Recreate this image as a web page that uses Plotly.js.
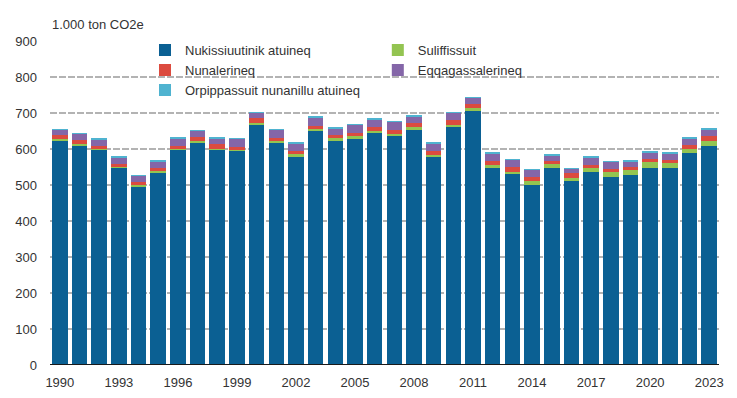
<!DOCTYPE html>
<html>
<head>
<meta charset="utf-8">
<script src="https://cdn.plot.ly/plotly-3.0.1.min.js"></script>
<style>html,body{margin:0;padding:0;background:#fff;}#chart{width:737px;height:398px;}</style>
</head>
<body>
<div id="chart"></div>
<script>
const years = [1990,1991,1992,1993,1994,1995,1996,1997,1998,1999,2000,2001,2002,2003,2004,2005,2006,2007,2008,2009,2010,2011,2012,2013,2014,2015,2016,2017,2018,2019,2020,2021,2022,2023];
const seriesNames = ["Nukissiuutinik atuineq","Suliffissuit","Nunalerineq","Eqqagassalerineq","Orpippassuit nunanillu atuineq"];
const energy   = [624,610,598,548,497,535,598,618,598,595,669,618,580,649,623,627,644,635,652,577,661,706,547,530,501,547,510,535,522,527,547,547,589,609];
const industry = [5,3,3,3,3,3,3,3,3,3,4,4,5,6,7,8,7,8,8,7,7,7,8,7,9,12,9,12,13,14,18,14,12,12];
const agriculture = [9,13,8,8,8,9,8,12,12,8,12,8,9,9,9,9,9,9,11,11,13,12,13,14,12,9,14,9,9,9,6,8,11,14];
const waste    = [15,16,17,17,17,19,20,17,17,22,15,23,22,23,19,23,22,23,20,21,19,17,19,19,20,14,12,20,20,16,20,18,18,19];
const landUse  = [2,2,2,2,2,2,2,2,2,2,2,2,2,2,2,2,2,2,2,2,2,2,2,2,2,2,2,2,2,2,2,2,2,2];
const tickYears = [1990,1993,1996,1999,2002,2005,2008,2011,2014,2017,2020,2023];
const yTicks = [0,100,200,300,400,500,600,700,800,900];
const yUnit = "1.000 ton CO2e";

const colors = ["#0b6093","#93c451","#dc4b3f","#8466a8","#4fb3d0"];
const legendOf = ["legend","legend2","legend","legend2","legend"];
const values = [energy, industry, agriculture, waste, landUse];
const data = values.map((v,i)=>({
  type:'bar', x: years.map(String), y: v, name: seriesNames[i], legend: legendOf[i],
  marker:{color: colors[i], line:{width:0}}
}));

const font = {family:'"Liberation Sans", Arial, sans-serif', size:13, color:'#333'};
const legendBase = {orientation:'v', xanchor:'left', y:1.018, yanchor:'top', traceorder:'normal',
                    font:font, bgcolor:'rgba(0,0,0,0)', tracegroupgap:0};
const layout = {
  width:737, height:398,
  margin:{l:50, r:18, t:41, b:33},
  barmode:'stack', bargap:0.21,
  paper_bgcolor:'#fff', plot_bgcolor:'#fff',
  font: font,
  showlegend:true,
  hovermode:false,
  legend: Object.assign({x:0.142}, legendBase),
  legend2: Object.assign({x:0.490}, legendBase),
  xaxis:{type:'category', tickmode:'array', tickvals: tickYears.map(String), ticktext: tickYears.map(String),
         showgrid:false, ticks:'', showline:false, zeroline:false, tickfont:font, ticklabelstandoff:8,
         range:[-0.5, years.length-0.5]},
  yaxis:{range:[0,900], tickmode:'array', tickvals:yTicks, showgrid:true, gridcolor:'#b3b3b3', gridwidth:2,
         griddash:'7px,2px', zeroline:false, showline:false, ticks:'', tickfont:font, ticklabelstandoff:12},
  shapes:[{type:'line', xref:'paper', yref:'y', x0:0, x1:1, y0:0, y1:0, line:{color:'#1a1a1a', width:2}, layer:'above'}],
  annotations:[{text:yUnit, xref:'paper', yref:'paper', x:0, y:1, xanchor:'left', yanchor:'bottom', yshift:7, showarrow:false, font:font}]
};
Plotly.newPlot('chart', data, layout, {displayModeBar:false});
</script>
</body>
</html>
